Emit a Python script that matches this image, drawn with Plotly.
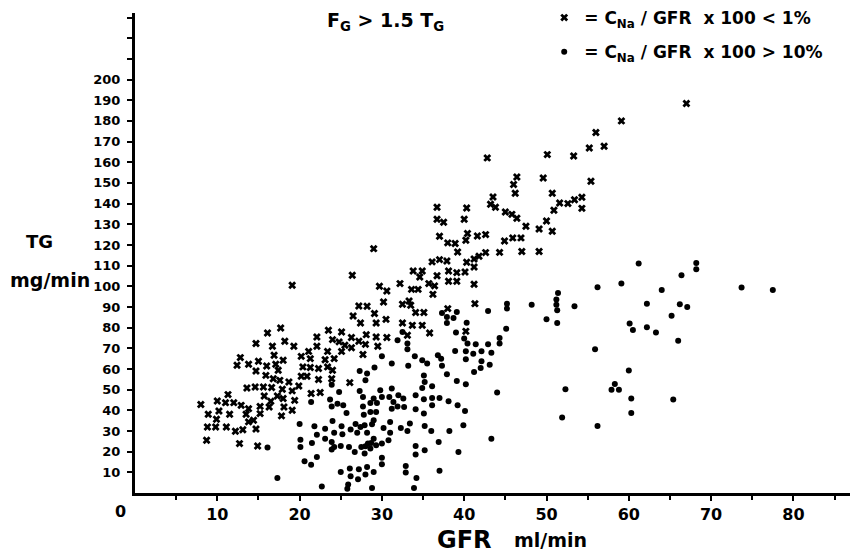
import plotly.graph_objects as go

# Crosses: C_Na/GFR x 100 < 1%
low_gfr = [56.0,55.2,50.1,53.3,42.8,46.4,49.6,55.4,46.0,46.2,50.7,43.5,43.2,43.8,51.6,52.6,53.4,54.3,54.3,50.9,
           36.7,40.3,36.7,37.5,40.0,45.0,45.8,46.4,50.0,47.5,49.1,50.7,37.0,40.4,41.6,42.6,40.2,38.0,38.9,44.9,
           45.9,46.9,39.2,42.6,44.3,47.0,49.1,36.1,37.0,37.9,40.3,41.2,41.8,41.2,33.8,34.9,34.6,36.7,38.1,39.1,
           40.1,29.0,67.0,59.1,57.0,
           38.1,39.1,29.7,30.6,32.2,33.6,34.4,35.7,36.4,36.2,41.2,30.2,32.5,33.3,33.5,34.1,35.1,38.0,41.3,28.2,
           29.1,30.5,29.3,32.5,33.7,34.9,35.8,40.2,33.1,28.1,29.3,30.6,28.0,29.5,27.7,
           26.4,19.1,27.2,26.5,27.4,16.1,17.7,14.7,16.7,18.2,19.3,16.9,18.0,12.8,12.4,13.8,15.0,16.0,17.1,14.7,
           15.9,16.8,17.4,13.6,14.6,15.6,16.6,17.6,18.7,17.9,19.1,19.9,15.7,17.3,18.0,16.5,19.4,18.1,16.3,15.2,
           19.1,17.8,15.2,11.3,11.0,10.0,12.0,12.9,13.8,13.5,10.2,11.5,8.0,8.9,9.9,13.8,14.4,8.8,9.8,11.1,
           12.2,13.1,14.7,8.7,12.7,14.9,21.1,20.2,21.3,20.4,21.3,22.3,20.2,20.9,22.3,21.4,22.5,22.1,22.1,23.1,
           23.4,24.0,24.2,23.4,24.0,24.8,23.5,25.1,25.1,25.5,26.3,26.3,27.2,23.9,26.1]
low_tg = [174.4,166.9,163.7,163.0,162.1,152.9,152.4,150.8,149.2,145.0,145.0,143.2,139.7,138.2,140.3,140.0,141.9,143.1,137.7,136.8,
          138.2,137.9,132.4,131.0,132.4,135.9,134.8,132.9,131.6,129.0,127.7,126.6,124.2,125.5,124.3,125.0,122.3,121.0,120.7,121.9,
          123.4,123.4,116.6,116.3,116.4,116.8,116.8,111.8,112.9,112.2,111.6,113.2,114.5,109.3,107.4,107.4,104.5,105.1,107.4,106.6,
          106.9,118.2,188.4,180.0,167.7,
          102.4,102.4,100.0,97.7,101.3,98.5,98.5,101.3,100.2,96.1,101.0,92.4,91.3,92.9,90.8,87.3,87.3,89.2,91.6,90.3,
          86.8,84.0,82.2,82.2,81.1,81.1,77.4,78.2,76.3,76.6,75.5,75.2,71.9,71.0,67.0,
          105.3,100.5,90.5,85.6,82.2,77.4,79.8,72.3,71.0,73.4,71.0,66.6,64.2,65.5,61.8,62.3,63.7,61.4,62.3,59.0,
          56.9,55.3,59.4,50.8,51.3,51.3,51.0,54.5,53.7,50.2,49.4,51.8,46.9,46.9,45.7,44.4,44.8,41.6,41.6,41.9,
          40.0,37.3,38.4,47.6,43.7,44.5,43.7,42.4,40.8,38.1,39.7,38.1,42.8,38.1,35.7,34.4,35.2,31.9,31.9,31.9,
          29.9,30.6,31.0,25.5,23.9,22.7,68.5,66.1,65.0,61.0,60.7,60.2,56.5,56.5,54.9,48.1,48.6,75.5,71.0,64.5,
          61.0,59.4,65.0,68.5,74.2,73.1,78.7,77.9,68.5,71.5,75.2,70.3,73.4,55.3,53.4]

# Dots: C_Na/GFR x 100 > 10%
high_gfr = [61.2,68.2,68.2,66.4,56.2,59.1,64.0,73.7,77.5,62.2,66.2,67.1,65.2,60.1,60.5,62.2,63.3,66.0,55.9,60.0,
            58.3,57.9,58.8,60.3,65.4,60.3,56.2,
            37.3,37.9,38.7,37.9,39.1,42.9,45.2,45.2,48.2,51.2,51.4,51.2,51.3,53.4,50.0,51.3,40.3,39.0,32.5,31.9,
            33.1,33.1,40.0,40.4,41.4,42.9,44.3,44.3,45.1,38.9,40.2,41.1,42.1,43.3,40.2,42.1,43.1,42.0,41.2,36.8,
            37.2,37.3,34.0,34.9,35.5,33.2,31.2,30.0,29.1,37.9,39.1,40.2,35.1,35.2,34.9,36.1,28.2,28.0,44.0,52.3,
            51.9,43.3,29.8,31.2,32.0,32.6,34.1,35.1,36.1,37.0,38.1,39.2,40.1,36.1,35.1,34.1,32.7,31.9,31.2,31.4,
            30.9,30.0,29.0,29.4,28.6,27.7,27.7,28.6,29.3,27.8,29.0,28.8,27.9,30.2,28.2,31.0,31.0,32.3,33.1,33.4,
            35.2,36.0,38.2,39.9,30.8,29.0,28.7,29.3,28.6,28.0,30.0,27.9,30.0,30.0,28.2,29.0,28.0,34.1,34.1,35.2,
            36.9,39.3,32.9,32.9,34.2,33.9,37.0,28.8,
            27.3,23.9,24.8,27.3,21.4,23.7,23.9,24.6,25.3,25.7,20.0,21.8,23.1,24.0,25.1,24.2,25.2,26.2,27.0,27.4,
            26.8,22.1,23.1,20.1,20.1,21.5,23.9,24.2,25.0,23.9,26.0,26.7,27.5,28.3,16.1,20.6,21.4,22.1,25.0,26.1,
            27.2,27.1,26.2,25.9,25.8,22.7,17.3]
high_tg = [111.0,111.3,108.2,105.3,99.5,101.3,98.2,99.4,98.2,91.6,91.3,90.0,85.8,82.0,78.9,80.2,77.6,73.7,69.5,59.2,
           52.7,50.0,50.0,45.7,45.2,38.7,32.4,
           87.1,85.1,84.6,82.2,87.6,88.1,91.6,89.2,91.1,93.6,96.8,91.1,88.4,90.3,84.0,82.2,82.4,77.6,77.9,73.9,
           72.3,69.5,74.7,72.3,71.9,71.9,75.0,72.3,79.5,68.7,68.6,67.4,68.6,67.9,64.7,63.7,62.1,60.5,58.5,66.6,
           65.0,61.5,66.1,64.2,62.6,61.5,62.6,66.1,60.7,57.4,54.2,52.6,56.9,53.7,50.8,51.6,57.8,54.5,48.6,50.2,
           36.5,26.3,49.7,50.5,47.3,45.7,47.3,45.3,46.0,46.0,44.4,42.4,39.7,42.4,38.4,40.5,41.6,41.9,40.8,44.0,
           46.4,46.4,45.7,43.5,43.5,46.4,41.9,39.2,39.2,37.9,35.2,33.2,32.8,31.5,29.2,29.2,34.4,31.5,30.0,33.6,
           32.4,30.0,30.0,32.8,25.5,26.3,24.2,23.1,21.5,22.6,23.9,19.1,17.1,13.9,12.6,10.2,9.0,22.7,18.6,20.7,
           24.7,19.8,13.1,9.9,7.3,2.4,10.8,2.4,
           59.0,52.4,48.9,49.3,44.0,45.2,41.9,43.2,42.4,38.7,33.4,32.3,31.1,34.8,32.3,29.2,28.4,30.7,29.2,31.9,
           33.4,28.2,26.3,25.8,22.3,24.2,24.7,22.3,22.7,21.1,22.3,19.8,22.3,23.9,22.0,15.3,13.7,17.4,10.2,11.8,
           11.5,6.6,8.1,4.1,2.1,3.2,7.3]

x_ticks = [10, 20, 30, 40, 50, 60, 70, 80]
x_minor = [5, 15, 25, 35, 45, 55, 65, 75, 85]
y_ticks = list(range(10, 201, 10))
y_minor = [210, 220, 230]

FONT = "DejaVu Sans, Liberation Sans, Arial, sans-serif"

fig = go.Figure()
fig.add_trace(go.Scatter(
    x=low_gfr, y=low_tg, mode="markers", legendgroup="a",
    name="= C<sub>Na</sub> / GFR  x 100 < 1%",
    marker=dict(symbol="x", size=7, color="black", line=dict(width=0)),
))
fig.add_trace(go.Scatter(
    x=high_gfr, y=high_tg, mode="markers", legendgroup="b",
    name="= C<sub>Na</sub> / GFR  x 100 > 10%",
    marker=dict(symbol="circle", size=6, color="black", line=dict(width=0)),
))

# The page body has an 8px default margin, so the figure is 8px smaller.
fig.update_layout(
    width=850, height=546,
    margin=dict(l=127, r=0, t=5, b=61, autoexpand=False),
    paper_bgcolor="white", plot_bgcolor="white",
    font=dict(family=FONT, color="black", size=14, weight="bold"),
    showlegend=True,
    legend=dict(x=0.566, y=1.027, xref="paper", yref="paper",
                xanchor="left", yanchor="top",
                bgcolor="rgba(0,0,0,0)", tracegroupgap=9, itemwidth=30,
                font=dict(size=17, family=FONT, weight="bold")),
    xaxis=dict(range=[0, 87.85], showline=True, linewidth=3, linecolor="black",
               showgrid=False, zeroline=False, tickmode="array", tickvals=x_ticks,
               ticks="outside", ticklen=5, tickwidth=2, tickcolor="black",
               ticklabelstandoff=0, tickfont=dict(size=16), automargin=False,
               minor=dict(tickmode="array", tickvals=x_minor, ticks="outside",
                          ticklen=4, tickwidth=2, tickcolor="black")),
    yaxis=dict(range=[0, 232.2], showline=True, linewidth=3, linecolor="black",
               showgrid=False, zeroline=False, tickmode="array", tickvals=y_ticks,
               ticks="outside", ticklen=5, tickwidth=2,
               tickcolor="black", ticklabelstandoff=4, tickfont=dict(size=13),
               automargin=False,
               minor=dict(tickmode="array", tickvals=y_minor, ticks="outside",
                          ticklen=5, tickwidth=2, tickcolor="black")),
    annotations=[
        dict(text="0", x=-0.020, y=-0.039, xref="paper", yref="paper",
             xanchor="center", yanchor="middle", showarrow=False, font=dict(size=16)),
        dict(text="F<sub>G</sub> > 1.5 T<sub>G</sub>", x=0.3465, y=0.983,
             xref="paper", yref="paper", xanchor="center", yanchor="middle",
             showarrow=False, font=dict(size=19)),
        dict(text="TG", x=-0.1314, y=0.523, xref="paper", yref="paper",
             xanchor="center", yanchor="middle", showarrow=False, font=dict(size=18)),
        dict(text="mg/min", x=-0.1176, y=0.443, xref="paper", yref="paper",
             xanchor="center", yanchor="middle", showarrow=False, font=dict(size=19)),
        dict(text="GFR", x=0.4557, y=-0.0975, xref="paper", yref="paper",
             xanchor="center", yanchor="middle", showarrow=False, font=dict(size=24)),
        dict(text="ml/min", x=0.574, y=-0.0985, xref="paper", yref="paper",
             xanchor="center", yanchor="middle", showarrow=False, font=dict(size=19)),
    ],
)

fig.write_html("out.html")
